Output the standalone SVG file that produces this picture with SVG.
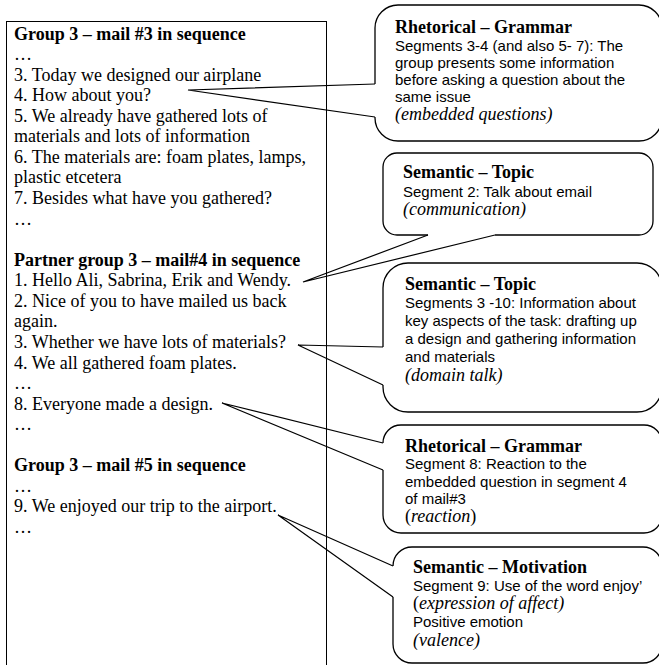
<svg xmlns="http://www.w3.org/2000/svg" width="659" height="665" viewBox="0 0 659 665">
<style>
.box{fill:none;stroke:#000;stroke-width:1}
.callout{fill:#fff;stroke:#000;stroke-width:1.3}
.wedge{fill:none;stroke:#000;stroke-width:1.2}
.t{font-family:"Liberation Serif","Times New Roman",serif;font-size:18px;fill:#000}
.b{font-weight:bold}
.s{font-family:"Liberation Sans",Arial,sans-serif;font-size:15px}
.i{font-style:italic}
</style>
<rect width="659" height="665" fill="#fff"/>
<g id="callout-rhetorical-1">
<path class="callout" d="M375,117 L375,118 A23,23 0 0 0 398,141 L639,141 A23,23 0 0 0 662,118 L662,28 A23,23 0 0 0 639,5 L398,5 A23,23 0 0 0 375,28 L375,84"/>
<text class="t b" x="395" y="33">Rhetorical – Grammar</text>
<text class="t s" x="395" y="51">Segments 3-4 (and also 5- 7): The</text>
<text class="t s" x="395" y="68">group presents some information</text>
<text class="t s" x="395" y="85">before asking a question about the</text>
<text class="t s" x="395" y="102">same issue</text>
<text class="t i" x="395" y="120">(embedded questions)</text>
</g>
<g id="callout-semantic-topic-1">
<path class="callout" d="M495,235 L639,235 A14,14 0 0 0 653,221 L653,167 A14,14 0 0 0 639,153 L397,153 A14,14 0 0 0 383,167 L383,221 A14,14 0 0 0 397,235 L428,235"/>
<text class="t b" x="403" y="178">Semantic – Topic</text>
<text class="t s" x="403" y="196.5">Segment 2: Talk about email</text>
<text class="t i" x="403" y="215">(communication)</text>
</g>
<g id="callout-semantic-topic-2">
<path class="callout" d="M383,385 L383,387 A25,25 0 0 0 408,412 L637,412 A25,25 0 0 0 662,387 L662,288 A25,25 0 0 0 637,263 L408,263 A25,25 0 0 0 383,288 L383,347"/>
<text class="t b" x="405" y="290">Semantic – Topic</text>
<text class="t s" x="405" y="308">Segments 3 -10: Information about</text>
<text class="t s" x="405" y="326">key aspects of the task: drafting up</text>
<text class="t s" x="405" y="344">a design and gathering information</text>
<text class="t s" x="405" y="362">and materials</text>
<text class="t i" x="405" y="381">(domain talk)</text>
</g>
<g id="callout-rhetorical-2">
<path class="callout" d="M383,470 L383,515 A18,18 0 0 0 401,533 L644,533 A18,18 0 0 0 662,515 L662,443 A18,18 0 0 0 644,425 L401,425 A18,18 0 0 0 383,443"/>
<text class="t b" x="405" y="452">Rhetorical – Grammar</text>
<text class="t s" x="405" y="469">Segment 8: Reaction to the</text>
<text class="t s" x="405" y="487">embedded question in segment 4</text>
<text class="t s" x="405" y="504">of mail#3</text>
<text class="t" x="405" y="522">(<tspan class="i">reaction</tspan>)</text>
</g>
<g id="callout-semantic-motivation">
<path class="callout" d="M393,597 L393,644 A19,19 0 0 0 412,663 L643,663 A19,19 0 0 0 662,644 L662,566 A19,19 0 0 0 643,547 L412,547 A19,19 0 0 0 393,566"/>
<text class="t b" x="413" y="573">Semantic – Motivation</text>
<text class="t s" x="413" y="591">Segment 9: Use of the word enjoy’</text>
<text class="t" x="413" y="609">(<tspan class="i">expression of affect)</tspan></text>
<text class="t s" x="413" y="627">Positive emotion</text>
<text class="t i" x="413" y="646">(valence)</text>
</g>
<g id="connectors">
<polyline class="wedge" points="375,84 188,90 375,117"/>
<polyline class="wedge" points="428,235 303,282 495,235"/>
<polyline class="wedge" points="383,347 298,345 383,385"/>
<polyline class="wedge" points="383,443 222,403 383,470"/>
<polyline class="wedge" points="393,566 278,515 393,597"/>
</g>
<g id="mail-column">
<rect class="box" x="6.5" y="21.5" width="320" height="700"/>
<text class="t b" x="14" y="39.5">Group 3 – mail #3 in sequence</text>
<text class="t" x="14" y="60.1">…</text>
<text class="t" x="14" y="80.6">3. Today we designed our airplane</text>
<text class="t" x="14" y="101.2">4. How about you?</text>
<text class="t" x="14" y="121.7">5. We already have gathered lots of</text>
<text class="t" x="14" y="142.3">materials and lots of information</text>
<text class="t" x="14" y="162.9">6. The materials are: foam plates, lamps,</text>
<text class="t" x="14" y="183.4">plastic etcetera</text>
<text class="t" x="14" y="204">7. Besides what have you gathered?</text>
<text class="t" x="14" y="224.5">…</text>
<text class="t b" x="14" y="265.7">Partner group 3 – mail#4 in sequence</text>
<text class="t" x="14" y="286.2">1. Hello Ali, Sabrina, Erik and Wendy.</text>
<text class="t" x="14" y="306.8">2. Nice of you to have mailed us back</text>
<text class="t" x="14" y="327.3">again.</text>
<text class="t" x="14" y="347.9">3. Whether we have lots of materials?</text>
<text class="t" x="14" y="368.5">4. We all gathered foam plates.</text>
<text class="t" x="14" y="389">…</text>
<text class="t" x="14" y="409.6">8. Everyone made a design.</text>
<text class="t" x="14" y="430.1">…</text>
<text class="t b" x="14" y="471.3">Group 3 – mail #5 in sequence</text>
<text class="t" x="14" y="491.8">…</text>
<text class="t" x="14" y="512.4">9. We enjoyed our trip to the airport.</text>
<text class="t" x="14" y="532.9">…</text>
</g>
</svg>
